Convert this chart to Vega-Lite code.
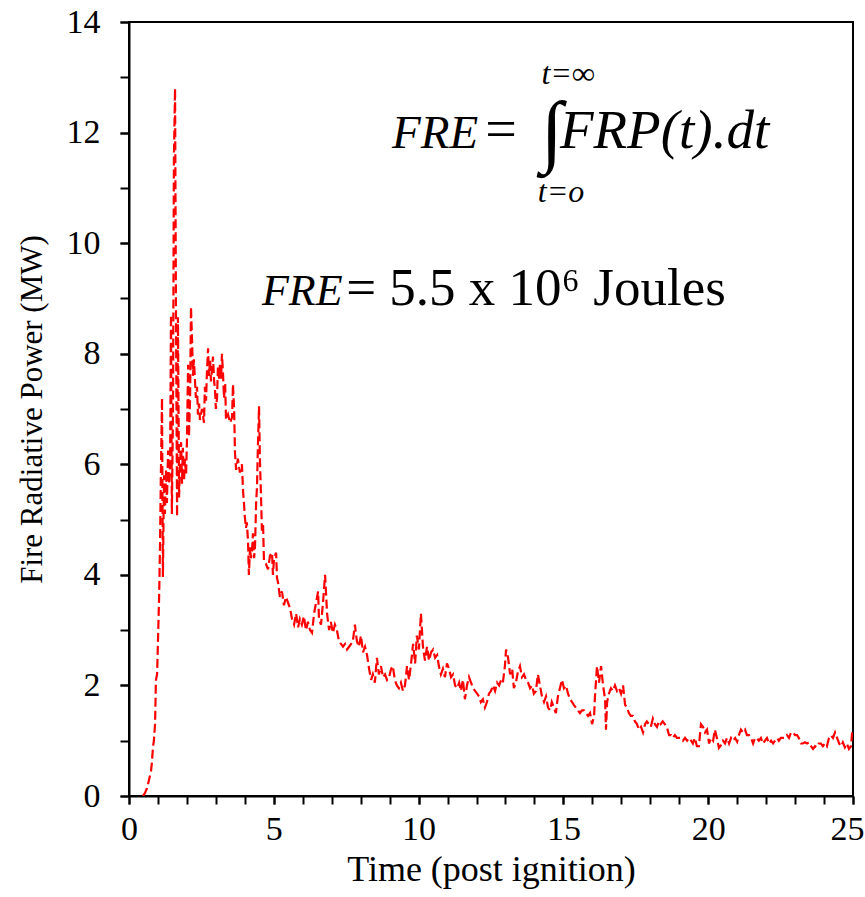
{
  "$schema": "https://vega.github.io/schema/vega-lite/v6.json",
  "autosize": {"type": "none"},
  "width": 724,
  "height": 774,
  "padding": {"left": 129, "top": 22, "right": 12, "bottom": 101},
  "background": "white",
  "config": {
    "font": "Liberation Serif",
    "view": {"stroke": "black", "strokeWidth": 2},
    "axis": {"grid": false, "domainColor": "black", "domainWidth": 2, "tickColor": "black", "tickWidth": 2, "labelColor": "black", "titleColor": "black", "labelFont": "Liberation Serif", "titleFont": "Liberation Serif", "titleFontWeight": "normal", "labelOverlap": false, "labelFlush": false}
  },
  "resolve": {"axis": {"x": "independent", "y": "independent"}},
  "datasets": {
    "frp": [
      {"t":0.48,"p":0},{"t":0.55,"p":0.05},{"t":0.62,"p":0.14},{"t":0.69,"p":0.29},{"t":0.76,"p":0.45},{"t":0.79,"p":0.6},{"t":0.83,"p":0.9},{"t":0.86,"p":1.0},{"t":0.9,"p":1.3},{"t":0.93,"p":2.1},{"t":0.97,"p":2.2},{"t":1.0,"p":2.8},{"t":1.04,"p":3.6},{"t":1.07,"p":4.5},{"t":1.1,"p":5.8},{"t":1.14,"p":7.2},{"t":1.17,"p":3.96},{"t":1.21,"p":5.8},{"t":1.24,"p":5.1},{"t":1.28,"p":5.9},{"t":1.31,"p":5.3},{"t":1.35,"p":6.25},{"t":1.38,"p":5.65},{"t":1.42,"p":6.0},{"t":1.45,"p":8.7},{"t":1.48,"p":5.1},{"t":1.52,"p":7.0},{"t":1.55,"p":11.5},{"t":1.59,"p":12.8},{"t":1.62,"p":9.0},{"t":1.66,"p":5.05},{"t":1.69,"p":8.66},{"t":1.73,"p":5.4},{"t":1.76,"p":6.0},{"t":1.8,"p":6.4},{"t":1.83,"p":5.65},{"t":1.86,"p":6.3},{"t":1.9,"p":5.7},{"t":1.93,"p":6.1},{"t":1.97,"p":5.8},{"t":2.0,"p":6.4},{"t":2.04,"p":7.8},{"t":2.07,"p":6.5},{"t":2.11,"p":7.2},{"t":2.14,"p":8.85},{"t":2.18,"p":8.2},{"t":2.21,"p":7.6},{"t":2.24,"p":7.9},{"t":2.28,"p":7.5},{"t":2.31,"p":7.2},{"t":2.35,"p":7.4},{"t":2.38,"p":6.9},{"t":2.42,"p":7.1},{"t":2.45,"p":6.8},{"t":2.52,"p":7.0},{"t":2.59,"p":6.75},{"t":2.62,"p":7.4},{"t":2.66,"p":7.15},{"t":2.69,"p":7.65},{"t":2.73,"p":8.1},{"t":2.76,"p":7.6},{"t":2.8,"p":7.9},{"t":2.83,"p":7.5},{"t":2.9,"p":7.95},{"t":2.94,"p":7.5},{"t":2.97,"p":7.35},{"t":3.0,"p":7.0},{"t":3.04,"p":7.2},{"t":3.07,"p":7.75},{"t":3.11,"p":7.55},{"t":3.14,"p":7.8},{"t":3.18,"p":7.55},{"t":3.21,"p":8.0},{"t":3.25,"p":7.6},{"t":3.28,"p":7.2},{"t":3.32,"p":7.45},{"t":3.35,"p":6.8},{"t":3.42,"p":6.9},{"t":3.49,"p":6.75},{"t":3.56,"p":6.85},{"t":3.59,"p":7.45},{"t":3.63,"p":7.0},{"t":3.66,"p":6.2},{"t":3.7,"p":5.9},{"t":3.76,"p":6.1},{"t":3.83,"p":5.85},{"t":3.9,"p":6.0},{"t":3.94,"p":5.5},{"t":3.97,"p":5.3},{"t":4.0,"p":5.05},{"t":4.04,"p":4.85},{"t":4.07,"p":4.95},{"t":4.11,"p":4.6},{"t":4.14,"p":4.0},{"t":4.18,"p":4.5},{"t":4.21,"p":4.3},{"t":4.25,"p":4.45},{"t":4.28,"p":4.75},{"t":4.32,"p":4.3},{"t":4.35,"p":4.5},{"t":4.39,"p":5.3},{"t":4.42,"p":5.6},{"t":4.45,"p":6.3},{"t":4.49,"p":7.05},{"t":4.52,"p":6.1},{"t":4.56,"p":5.4},{"t":4.59,"p":4.8},{"t":4.63,"p":4.9},{"t":4.66,"p":4.25},{"t":4.73,"p":4.2},{"t":4.8,"p":4.1},{"t":4.87,"p":4.35},{"t":4.94,"p":4.4},{"t":4.97,"p":4.0},{"t":5.01,"p":4.3},{"t":5.08,"p":4.4},{"t":5.11,"p":3.95},{"t":5.15,"p":3.85},{"t":5.21,"p":3.6},{"t":5.28,"p":3.7},{"t":5.35,"p":3.45},{"t":5.42,"p":3.6},{"t":5.49,"p":3.5},{"t":5.56,"p":3.4},{"t":5.63,"p":3.2},{"t":5.7,"p":3.1},{"t":5.77,"p":3.3},{"t":5.84,"p":3.05},{"t":5.9,"p":3.2},{"t":5.97,"p":3.1},{"t":6.04,"p":3.25},{"t":6.11,"p":3.0},{"t":6.18,"p":3.15},{"t":6.25,"p":3.0},{"t":6.32,"p":2.95},{"t":6.39,"p":3.3},{"t":6.46,"p":3.5},{"t":6.53,"p":3.7},{"t":6.56,"p":3.2},{"t":6.63,"p":3.1},{"t":6.7,"p":3.5},{"t":6.77,"p":4.0},{"t":6.84,"p":3.3},{"t":6.91,"p":3.0},{"t":6.97,"p":3.15},{"t":7.04,"p":2.95},{"t":7.11,"p":3.1},{"t":7.18,"p":3.0},{"t":7.25,"p":2.8},{"t":7.32,"p":2.75},{"t":7.39,"p":2.7},{"t":7.46,"p":2.75},{"t":7.53,"p":2.65},{"t":7.6,"p":2.7},{"t":7.67,"p":2.75},{"t":7.73,"p":2.8},{"t":7.8,"p":3.1},{"t":7.87,"p":2.8},{"t":7.94,"p":2.7},{"t":8.01,"p":2.9},{"t":8.08,"p":2.6},{"t":8.15,"p":2.7},{"t":8.22,"p":2.55},{"t":8.29,"p":2.3},{"t":8.36,"p":2.1},{"t":8.42,"p":2.2},{"t":8.49,"p":2.05},{"t":8.56,"p":2.5},{"t":8.63,"p":2.2},{"t":8.7,"p":2.35},{"t":8.77,"p":2.15},{"t":8.84,"p":2.2},{"t":8.91,"p":2.1},{"t":8.98,"p":2.15},{"t":9.05,"p":2.3},{"t":9.11,"p":2.35},{"t":9.18,"p":2.1},{"t":9.25,"p":2.0},{"t":9.32,"p":1.95},{"t":9.39,"p":2.05},{"t":9.46,"p":1.9},{"t":9.53,"p":2.0},{"t":9.6,"p":2.35},{"t":9.67,"p":2.1},{"t":9.74,"p":2.4},{"t":9.81,"p":2.75},{"t":9.88,"p":2.4},{"t":9.94,"p":2.9},{"t":10.01,"p":2.65},{"t":10.08,"p":3.3},{"t":10.15,"p":2.7},{"t":10.22,"p":2.45},{"t":10.29,"p":2.7},{"t":10.36,"p":2.45},{"t":10.43,"p":2.6},{"t":10.5,"p":2.65},{"t":10.57,"p":2.5},{"t":10.64,"p":2.55},{"t":10.7,"p":2.35},{"t":10.77,"p":2.2},{"t":10.84,"p":2.3},{"t":10.91,"p":2.15},{"t":10.98,"p":2.4},{"t":11.05,"p":2.3},{"t":11.12,"p":2.15},{"t":11.19,"p":2.2},{"t":11.26,"p":2.0},{"t":11.33,"p":1.95},{"t":11.4,"p":2.05},{"t":11.46,"p":1.9},{"t":11.53,"p":2.1},{"t":11.6,"p":1.75},{"t":11.67,"p":2.0},{"t":11.74,"p":2.15},{"t":11.81,"p":2.05},{"t":11.88,"p":1.95},{"t":11.95,"p":1.9},{"t":12.02,"p":1.85},{"t":12.09,"p":1.8},{"t":12.15,"p":1.7},{"t":12.22,"p":1.75},{"t":12.29,"p":1.6},{"t":12.36,"p":1.7},{"t":12.43,"p":1.85},{"t":12.5,"p":1.9},{"t":12.57,"p":2.0},{"t":12.64,"p":1.9},{"t":12.71,"p":2.05},{"t":12.78,"p":2.0},{"t":12.85,"p":2.1},{"t":12.91,"p":2.05},{"t":12.98,"p":2.35},{"t":13.02,"p":2.65},{"t":13.09,"p":2.5},{"t":13.16,"p":2.2},{"t":13.23,"p":2.3},{"t":13.29,"p":1.95},{"t":13.36,"p":2.05},{"t":13.43,"p":2.25},{"t":13.5,"p":2.35},{"t":13.57,"p":2.15},{"t":13.64,"p":2.2},{"t":13.71,"p":2.1},{"t":13.78,"p":2.05},{"t":13.85,"p":1.95},{"t":13.92,"p":2.0},{"t":13.98,"p":1.85},{"t":14.05,"p":1.9},{"t":14.12,"p":2.2},{"t":14.19,"p":2.0},{"t":14.26,"p":1.8},{"t":14.33,"p":1.7},{"t":14.4,"p":1.8},{"t":14.47,"p":1.6},{"t":14.54,"p":1.55},{"t":14.6,"p":1.7},{"t":14.67,"p":1.6},{"t":14.74,"p":1.5},{"t":14.81,"p":1.8},{"t":14.88,"p":1.95},{"t":14.95,"p":2.1},{"t":15.02,"p":1.95},{"t":15.09,"p":2.0},{"t":15.16,"p":1.85},{"t":15.23,"p":1.75},{"t":15.3,"p":1.7},{"t":15.36,"p":1.65},{"t":15.43,"p":1.6},{"t":15.5,"p":1.55},{"t":15.57,"p":1.5},{"t":15.64,"p":1.55},{"t":15.71,"p":1.55},{"t":15.78,"p":1.5},{"t":15.85,"p":1.45},{"t":15.92,"p":1.5},{"t":15.99,"p":1.3},{"t":16.06,"p":1.45},{"t":16.09,"p":1.8},{"t":16.16,"p":2.35},{"t":16.23,"p":2.05},{"t":16.3,"p":2.35},{"t":16.37,"p":2.0},{"t":16.44,"p":1.75},{"t":16.47,"p":1.2},{"t":16.51,"p":1.7},{"t":16.57,"p":1.85},{"t":16.64,"p":1.95},{"t":16.71,"p":1.9},{"t":16.78,"p":2.0},{"t":16.85,"p":1.9},{"t":16.92,"p":1.95},{"t":16.99,"p":1.85},{"t":17.06,"p":2.0},{"t":17.13,"p":1.65},{"t":17.2,"p":1.6},{"t":17.26,"p":1.5},{"t":17.33,"p":1.45},{"t":17.4,"p":1.45},{"t":17.47,"p":1.35},{"t":17.54,"p":1.3},{"t":17.61,"p":1.2},{"t":17.68,"p":1.25},{"t":17.75,"p":1.15},{"t":17.82,"p":1.3},{"t":17.88,"p":1.35},{"t":17.95,"p":1.3},{"t":18.02,"p":1.25},{"t":18.09,"p":1.4},{"t":18.16,"p":1.3},{"t":18.23,"p":1.25},{"t":18.3,"p":1.35},{"t":18.36,"p":1.3},{"t":18.43,"p":1.35},{"t":18.5,"p":1.3},{"t":18.57,"p":1.25},{"t":18.65,"p":1.1},{"t":18.72,"p":1.1},{"t":18.78,"p":1.05},{"t":18.85,"p":1.1},{"t":18.92,"p":1.05},{"t":18.99,"p":1.05},{"t":19.06,"p":1.05},{"t":19.13,"p":1.0},{"t":19.2,"p":1.05},{"t":19.27,"p":1.0},{"t":19.34,"p":1.05},{"t":19.41,"p":1.0},{"t":19.47,"p":0.95},{"t":19.54,"p":1.05},{"t":19.61,"p":0.9},{"t":19.68,"p":0.9},{"t":19.75,"p":1.3},{"t":19.82,"p":1.25},{"t":19.89,"p":1.15},{"t":19.96,"p":1.2},{"t":20.03,"p":0.95},{"t":20.1,"p":1.05},{"t":20.17,"p":1.0},{"t":20.23,"p":1.2},{"t":20.3,"p":1.05},{"t":20.37,"p":0.87},{"t":20.44,"p":0.92},{"t":20.51,"p":1.0},{"t":20.58,"p":0.95},{"t":20.65,"p":1.05},{"t":20.72,"p":0.95},{"t":20.79,"p":1.05},{"t":20.86,"p":1.0},{"t":20.93,"p":1.05},{"t":21.0,"p":0.98},{"t":21.06,"p":1.1},{"t":21.13,"p":1.2},{"t":21.2,"p":1.15},{"t":21.27,"p":1.2},{"t":21.34,"p":1.1},{"t":21.41,"p":1.1},{"t":21.48,"p":1.05},{"t":21.55,"p":0.95},{"t":21.62,"p":1.05},{"t":21.68,"p":1.05},{"t":21.75,"p":1.0},{"t":21.82,"p":1.05},{"t":21.89,"p":0.95},{"t":21.96,"p":1.0},{"t":22.03,"p":1.05},{"t":22.1,"p":0.95},{"t":22.17,"p":1.0},{"t":22.24,"p":0.95},{"t":22.31,"p":1.0},{"t":22.38,"p":1.05},{"t":22.44,"p":1.0},{"t":22.51,"p":1.05},{"t":22.58,"p":1.05},{"t":22.65,"p":1.05},{"t":22.72,"p":1.1},{"t":22.79,"p":1.05},{"t":22.86,"p":1.15},{"t":22.93,"p":1.15},{"t":23.0,"p":1.1},{"t":23.07,"p":1.1},{"t":23.13,"p":1.05},{"t":23.2,"p":0.95},{"t":23.27,"p":0.95},{"t":23.34,"p":0.97},{"t":23.41,"p":0.95},{"t":23.48,"p":0.97},{"t":23.55,"p":0.9},{"t":23.62,"p":0.85},{"t":23.69,"p":0.9},{"t":23.75,"p":0.88},{"t":23.82,"p":0.95},{"t":23.89,"p":0.95},{"t":23.96,"p":0.9},{"t":24.03,"p":0.95},{"t":24.1,"p":0.9},{"t":24.17,"p":1.05},{"t":24.24,"p":1.1},{"t":24.31,"p":1.05},{"t":24.38,"p":1.15},{"t":24.45,"p":1.05},{"t":24.52,"p":0.95},{"t":24.59,"p":0.9},{"t":24.65,"p":0.97},{"t":24.72,"p":0.88},{"t":24.79,"p":0.95},{"t":24.86,"p":0.85},{"t":24.93,"p":0.9},{"t":24.97,"p":1.15}
    ]
  },
  "layer": [
    {
      "data": {"name": "frp"},
      "mark": {"type": "line", "color": "#ff0000", "strokeWidth": 2.2, "strokeDash": [9, 4], "clip": true},
      "encoding": {
        "x": {"field": "t", "type": "quantitative", "scale": {"domain": [0, 25], "nice": false},
          "axis": {"orient": "bottom", "title": "Time (post ignition)", "values": [0, 5, 10, 15, 20, 25], "format": "d", "labelFontSize": 34, "titleFontSize": 36, "tickSize": 8, "labelPadding": 8, "titlePadding": 6,
            "labelOffset": {"condition": {"test": "datum.value === 25", "value": -6}, "value": 0}}},
        "y": {"field": "p", "type": "quantitative", "scale": {"domain": [0, 14], "nice": false},
          "axis": {"orient": "left", "title": "Fire Radiative Power (MW)", "values": [0, 2, 4, 6, 8, 10, 12, 14], "format": "d", "labelFontSize": 34, "titleFontSize": 31, "tickSize": 9, "labelPadding": 20, "titlePadding": 18}}
      }
    },
    {
      "data": {"values": [{}]},
      "mark": {"type": "text", "font": "Liberation Serif", "fontStyle": "italic", "fontSize": 47, "align": "left", "baseline": "alphabetic", "color": "black"},
      "encoding": {
        "x": {"datum": 9.08, "type": "quantitative", "axis": {"orient": "bottom", "title": null, "labels": false, "domain": false, "values": [0,1,2,3,4,5,6,7,8,9,10,11,12,13,14,15,16,17,18,19,20,21,22,23,24,25], "tickSize": 8}},
        "y": {"datum": 11.72, "type": "quantitative", "axis": {"orient": "left", "title": null, "labels": false, "domain": false, "values": [0,1,2,3,4,5,6,7,8,9,10,11,12,13,14], "tickSize": 9}},
        "text": {"value": "FRE"}
      }
    },
    {
      "data": {"values": [{}]},
      "mark": {"type": "text", "font": "Liberation Serif", "fontSize": 56, "align": "center", "baseline": "alphabetic", "color": "black"},
      "encoding": {"x": {"datum": 12.85, "type": "quantitative", "axis": null}, "y": {"datum": 11.72, "type": "quantitative", "axis": null}, "text": {"value": "="}}
    },
    {
      "data": {"values": [{}]},
      "mark": {"type": "text", "font": "Liberation Serif", "fontSize": 80, "align": "center", "baseline": "middle", "color": "black"},
      "encoding": {"x": {"datum": 14.6, "type": "quantitative", "axis": null}, "y": {"datum": 12.0, "type": "quantitative", "axis": null}, "text": {"value": "∫"}}
    },
    {
      "data": {"values": [{}]},
      "mark": {"type": "text", "font": "Liberation Serif", "fontStyle": "italic", "fontSize": 55, "align": "left", "baseline": "alphabetic", "color": "black"},
      "encoding": {"x": {"datum": 14.88, "type": "quantitative", "axis": null}, "y": {"datum": 11.72, "type": "quantitative", "axis": null}, "text": {"value": "FRP(t).dt"}}
    },
    {
      "data": {"values": [{}]},
      "mark": {"type": "text", "font": "Liberation Serif", "fontStyle": "italic", "fontSize": 32, "align": "center", "baseline": "alphabetic", "color": "black"},
      "encoding": {"x": {"datum": 15.16, "type": "quantitative", "axis": null}, "y": {"datum": 12.87, "type": "quantitative", "axis": null}, "text": {"value": "t=∞"}}
    },
    {
      "data": {"values": [{}]},
      "mark": {"type": "text", "font": "Liberation Serif", "fontStyle": "italic", "fontSize": 32, "align": "center", "baseline": "alphabetic", "color": "black"},
      "encoding": {"x": {"datum": 14.92, "type": "quantitative", "axis": null}, "y": {"datum": 10.75, "type": "quantitative", "axis": null}, "text": {"value": "t=o"}}
    },
    {
      "data": {"values": [{}]},
      "mark": {"type": "text", "font": "Liberation Serif", "fontStyle": "italic", "fontSize": 44, "align": "left", "baseline": "alphabetic", "color": "black"},
      "encoding": {"x": {"datum": 4.59, "type": "quantitative", "axis": null}, "y": {"datum": 8.88, "type": "quantitative", "axis": null}, "text": {"value": "FRE"}}
    },
    {
      "data": {"values": [{}]},
      "mark": {"type": "text", "font": "Liberation Serif", "fontSize": 53, "align": "left", "baseline": "alphabetic", "color": "black"},
      "encoding": {"x": {"datum": 7.5, "type": "quantitative", "axis": null}, "y": {"datum": 8.88, "type": "quantitative", "axis": null}, "text": {"value": "= 5.5 x 10⁶ Joules"}}
    }
  ]
}
